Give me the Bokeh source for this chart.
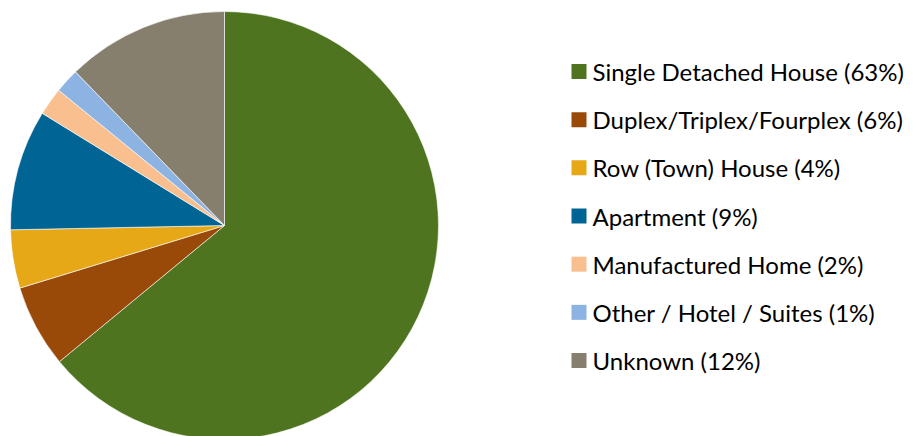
import math
from bokeh.plotting import figure
from bokeh.models import ColumnDataSource
from bokeh.core.properties import value
from bokeh.embed import file_html
from bokeh.resources import INLINE

categories = ["Single Detached House", "Duplex/Triplex/Fourplex", "Row (Town) House",
              "Apartment", "Manufactured Home", "Other / Hotel / Suites", "Unknown"]
shares = [64.0, 6.25, 4.4, 9.1, 2.1, 1.86, 12.25]
label_pcts = [63, 6, 4, 9, 2, 1, 12]
colors = ["#4E7420", "#9A4A08", "#E6A817", "#006494", "#F9BF8F", "#8DB3E2", "#877F6E"]

W, H = 913, 436
p = figure(width=W, height=H, x_range=(0, W), y_range=(0, H),
           output_backend="svg", toolbar_location=None, min_border=0)
p.axis.visible = False
p.grid.visible = False
p.outline_line_color = None
p.background_fill_color = "white"

total = sum(shares)
starts, ends = [], []
cum = 0.0
for s in shares:
    a0 = math.pi / 2 - 2 * math.pi * cum / total
    cum += s
    a1 = math.pi / 2 - 2 * math.pi * cum / total
    starts.append(a1)
    ends.append(a0)

cx, cy, r = 224, H - 225, 214
src = ColumnDataSource(dict(start=starts, end=ends, color=colors))
p.wedge(x=cx, y=cy, radius=r, start_angle="start", end_angle="end",
        fill_color="color", line_color="white", line_width=0.6, source=src)

labels = [f"{c} ({v}%)" for c, v in zip(categories, label_pcts)]
row0, step = H - 71, 48.17
ys = [row0 - i * step for i in range(len(categories))]
lsrc = ColumnDataSource(dict(x=[578.5] * len(ys), tx=[592] * len(ys), y=ys,
                             color=colors, label=labels))
p.scatter(x="x", y="y", marker="square", size=15, fill_color="color",
          line_color=None, source=lsrc)
p.text(x="tx", y="y", text="label", text_baseline="middle", text_align="left",
       text_font=value("Lato"), text_font_size="24px", text_color="#000000",
       source=lsrc)

open("out.html", "w").write(file_html(p, INLINE))
